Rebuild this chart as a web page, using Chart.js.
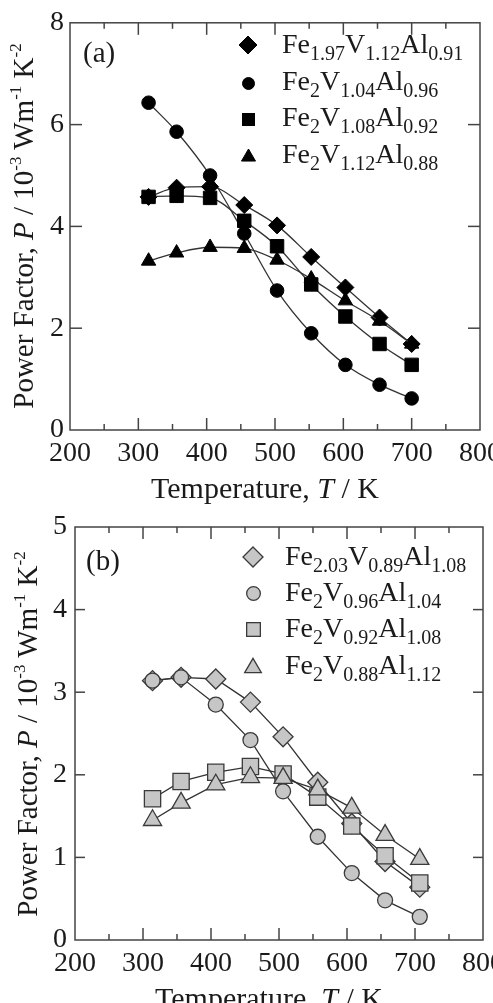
<!DOCTYPE html>
<html><head><meta charset="utf-8">
<script src="https://cdn.jsdelivr.net/npm/chart.js@4.4.1/dist/chart.umd.min.js"></script>
<style>
html,body{margin:0;padding:0;background:#fff;}
#wrap{position:relative;width:493px;height:1003px;overflow:hidden;background:#fff;font-family:'Liberation Serif','Times New Roman',serif;color:#1a1a1a;}
.cv{position:absolute;left:0;}
.lg{position:absolute;font-size:28px;line-height:28px;white-space:nowrap;}
.lg .s{font-size:20px;position:relative;top:7px;line-height:0;}
.mk{position:absolute;overflow:visible;}
.yt{position:absolute;font-size:29px;line-height:34px;white-space:nowrap;transform:translate(-50%,-50%) rotate(-90deg);}
.yt .p{font-size:17px;position:relative;top:-12px;line-height:0;}
.xt{position:absolute;font-size:30px;line-height:34px;white-space:nowrap;transform:translateX(-50%);}
.pl{position:absolute;font-size:29px;line-height:34px;}
</style></head>
<body>
<div id="wrap">
  <canvas id="ca" class="cv" style="top:0" width="520" height="490"></canvas>
  <canvas id="cb" class="cv" style="top:490px" width="520" height="513"></canvas>
</div>
<script>
// ---------- data ----------
const xTicks = [200, 300, 400, 500, 600, 700, 800];
const yTicksA = [0, 2, 4, 6, 8];
const yTicksB = [0, 1, 2, 3, 4, 5];

// panel (a)
const tempA = [315, 356, 405, 455, 503, 553, 603, 653, 700];
const diamondA = [4.58, 4.76, 4.78, 4.42, 4.02, 3.40, 2.80, 2.21, 1.69];
const circleA = [6.43, 5.86, 5.00, 3.86, 2.74, 1.90, 1.28, 0.89, 0.62];
const squareA = [4.58, 4.60, 4.56, 4.11, 3.61, 2.86, 2.23, 1.69, 1.28];
const triangleA = [3.32, 3.48, 3.59, 3.57, 3.34, 2.97, 2.54, 2.14, 1.69];
const namesA = [
  [['Fe',''],['1.97','s'],['V',''],['1.12','s'],['Al',''],['0.91','s']],
  [['Fe',''],['2','s'],['V',''],['1.04','s'],['Al',''],['0.96','s']],
  [['Fe',''],['2','s'],['V',''],['1.08','s'],['Al',''],['0.92','s']],
  [['Fe',''],['2','s'],['V',''],['1.12','s'],['Al',''],['0.88','s']]
];

// panel (b)
const tempB = [314, 356, 407, 458, 506, 557, 607, 656, 707];
const diamondB = [3.14, 3.18, 3.16, 2.88, 2.46, 1.91, 1.41, 0.95, 0.64];
const circleB = [3.14, 3.18, 2.85, 2.42, 1.80, 1.25, 0.81, 0.48, 0.28];
const squareB = [1.71, 1.92, 2.03, 2.10, 2.01, 1.73, 1.38, 1.02, 0.69];
const triangleB = [1.45, 1.66, 1.88, 1.97, 1.96, 1.82, 1.60, 1.27, 0.98];
const namesB = [
  [['Fe',''],['2.03','s'],['V',''],['0.89','s'],['Al',''],['1.08','s']],
  [['Fe',''],['2','s'],['V',''],['0.96','s'],['Al',''],['1.04','s']],
  [['Fe',''],['2','s'],['V',''],['0.92','s'],['Al',''],['1.08','s']],
  [['Fe',''],['2','s'],['V',''],['0.88','s'],['Al',''],['1.12','s']]
];

const xTitleParts = ['Temperature, ', '<i>T</i>', ' / K'];

// ---------- helpers ----------
const FONT = "'Liberation Serif','Times New Roman',serif";
const TXT = '#1a1a1a';
const toPts = (xs, ys) => xs.map((x, i) => ({x, y: ys[i]}));
const plain = parts => parts.map(p => p[0]).join('');

const frameTicks = {
  id: 'frameTicks',
  afterDatasetsDraw(chart, args, o) {
    const {ctx, chartArea: a, scales: {x, y}} = chart;
    ctx.save();
    ctx.strokeStyle = o.color; ctx.lineWidth = o.width;
    const seg = (x1, y1, x2, y2) => { ctx.beginPath(); ctx.moveTo(x1, y1); ctx.lineTo(x2, y2); ctx.stroke(); };
    x.ticks.forEach((t, i) => {
      const px = x.getPixelForValue(t.value);
      if (px > a.left + 1 && px < a.right - 1) { seg(px, a.bottom, px, a.bottom - o.major); seg(px, a.top, px, a.top + o.major); }
      if (i < x.ticks.length - 1) {
        const m = x.getPixelForValue((t.value + x.ticks[i + 1].value) / 2);
        seg(m, a.bottom, m, a.bottom - o.minor); seg(m, a.top, m, a.top + o.minor);
      }
    });
    y.ticks.forEach(t => {
      const py = y.getPixelForValue(t.value);
      if (py > a.top + 1 && py < a.bottom - 1) { seg(a.left, py, a.left + o.yLen, py); seg(a.right, py, a.right - o.yLen, py); }
    });
    ctx.strokeRect(a.left, a.top, a.right - a.left, a.bottom - a.top);
    ctx.restore();
  }
};

function makeChart(id, datasets, yTicks, ymax, geom) {
  return new Chart(document.getElementById(id), {
    type: 'line',
    data: {datasets},
    options: {
      responsive: false, animation: false, devicePixelRatio: 1,
      layout: {padding: {top: geom.top, right: geom.right, left: 0, bottom: 0}},
      plugins: {legend: {display: false}, tooltip: {enabled: false},
        frameTicks: {color: '#444', width: 1.5, major: 12, minor: 6, yLen: geom.yLen}},
      scales: {
        x: {type: 'linear', min: 200, max: 800,
          afterBuildTicks: s => { s.ticks = xTicks.map(v => ({value: v})); },
          ticks: {font: {family: FONT, size: 28}, color: TXT, padding: geom.xPad, maxRotation: 0, autoSkip: false},
          grid: {display: false, drawTicks: false}, border: {display: false},
          afterFit: s => { s.height = geom.xH; }},
        y: {type: 'linear', min: 0, max: ymax,
          afterBuildTicks: s => { s.ticks = yTicks.map(v => ({value: v})); },
          ticks: {font: {family: FONT, size: 28}, color: TXT, padding: geom.yPad, autoSkip: false},
          grid: {display: false, drawTicks: false}, border: {display: false},
          afterFit: s => { s.width = geom.yW; }}
      }
    },
    plugins: [frameTicks]
  });
}

function ds(label, xs, ys, style, r, fill, stroke, bw, lineColor, order, smooth) {
  return {label, data: toPts(xs, ys), pointStyle: style, pointRadius: r, pointHoverRadius: r,
    pointBackgroundColor: fill, pointBorderColor: stroke, pointBorderWidth: bw,
    borderColor: lineColor, borderWidth: 1.3, showLine: true, fill: false, order,
    cubicInterpolationMode: smooth ? 'monotone' : 'default', tension: 0};
}

// ---------- panel (a) ----------
const K = '#000';
const chartA = makeChart('ca', [
  ds(plain(namesA[0]), tempA, diamondA, 'rectRot', 8.5, K, K, 1, '#333', 3, true),
  ds(plain(namesA[1]), tempA, circleA, 'circle', 6.8, K, K, 1, '#333', 4, true),
  ds(plain(namesA[2]), tempA, squareA, 'rect', 9.5, K, K, 1, '#333', 2, true),
  ds(plain(namesA[3]), tempA, triangleA, 'triangle', 8.3, K, K, 1, '#333', 1, true)
], yTicksA, 8, {top: 18, right: 40, xH: 60, yW: 70, xPad: 7, yPad: 6, yLen: 12});

// ---------- panel (b) ----------
const G = '#c6c6c6', S = '#3a3a3a';
const chartB = makeChart('cb', [
  ds(plain(namesB[0]), tempB, diamondB, 'rectRot', 10, G, S, 1.3, '#333', 4, false),
  ds(plain(namesB[1]), tempB, circleB, 'circle', 7.5, G, S, 1.3, '#333', 3, false),
  ds(plain(namesB[2]), tempB, squareB, 'rect', 11.5, G, S, 1.3, '#333', 2, false),
  ds(plain(namesB[3]), tempB, triangleB, 'triangle', 10.5, G, S, 1.3, '#333', 1, false)
], yTicksB, 5, {top: 37, right: 37, xH: 63, yW: 75, xPad: 7, yPad: 8, yLen: 10});

// ---------- HTML overlays: legends, titles, panel labels ----------
const wrap = document.getElementById('wrap');
function el(tag, cls, html, style) { const e = document.createElement(tag); if (cls) e.className = cls; e.innerHTML = html; Object.assign(e.style, style); wrap.appendChild(e); return e; }

function markerSVG(shape, size, fill, stroke, sw) {
  const h = size / 2; let s = '';
  if (shape === 'rectRot') s = `<polygon points="${h},0 ${size},${h} ${h},${size} 0,${h}"/>`;
  else if (shape === 'circle') s = `<circle cx="${h}" cy="${h}" r="${h - sw / 2}"/>`;
  else if (shape === 'rect') s = `<rect x="${sw / 2}" y="${sw / 2}" width="${size - sw}" height="${size - sw}"/>`;
  else s = `<polygon points="${h},${sw} ${size - sw / 2},${size * 0.87} ${sw / 2},${size * 0.87}"/>`;
  return `<svg width="${size}" height="${size}" fill="${fill}" stroke="${stroke}" stroke-width="${sw}" style="overflow:visible">${s}</svg>`;
}

function legend(names, chart, topOffset, mx, tx, rows, sizes) {
  names.forEach((parts, i) => {
    const d = chart.data.datasets[i];
    const sz = sizes[i];
    el('div', 'mk', markerSVG(d.pointStyle, sz, d.pointBackgroundColor, d.pointBorderColor, d.pointBorderWidth),
      {left: (mx - sz / 2) + 'px', top: (topOffset + rows[i] - sz / 2) + 'px', width: sz + 'px', height: sz + 'px'});
    const html = parts.map(p => p[1] === 's' ? `<span class="s">${p[0]}</span>` : p[0]).join('');
    el('div', 'lg', html, {left: tx + 'px', top: (topOffset + rows[i] - 15) + 'px'});
  });
}

legend(namesA, chartA, 0, 248, 282, [45, 82, 118, 155], [18, 13, 13, 15]);
legend(namesB, chartB, 490, 253, 285, [67, 103, 139, 176], [20, 15, 15, 18]);

const yTitle = 'Power Factor, <i>P</i> / 10<span class="p">-3</span> Wm<span class="p">-1</span> K<span class="p">-2</span>';
function titles(chart, topOffset, yx) {
  const a = chart.chartArea;
  el('div', 'yt', yTitle, {left: yx + 'px', top: (topOffset + (a.top + a.bottom) / 2) + 'px'});
  el('div', 'xt', xTitleParts.join(''), {left: ((a.left + a.right) / 2 - 10) + 'px', top: (topOffset + a.bottom + 41) + 'px'});
}
titles(chartA, 0, 23);
titles(chartB, 490, 27);

el('div', 'pl', '(a)', {left: '83px', top: '35px'});
el('div', 'pl', '(b)', {left: '86px', top: '543px'});
</script>
</body></html>
